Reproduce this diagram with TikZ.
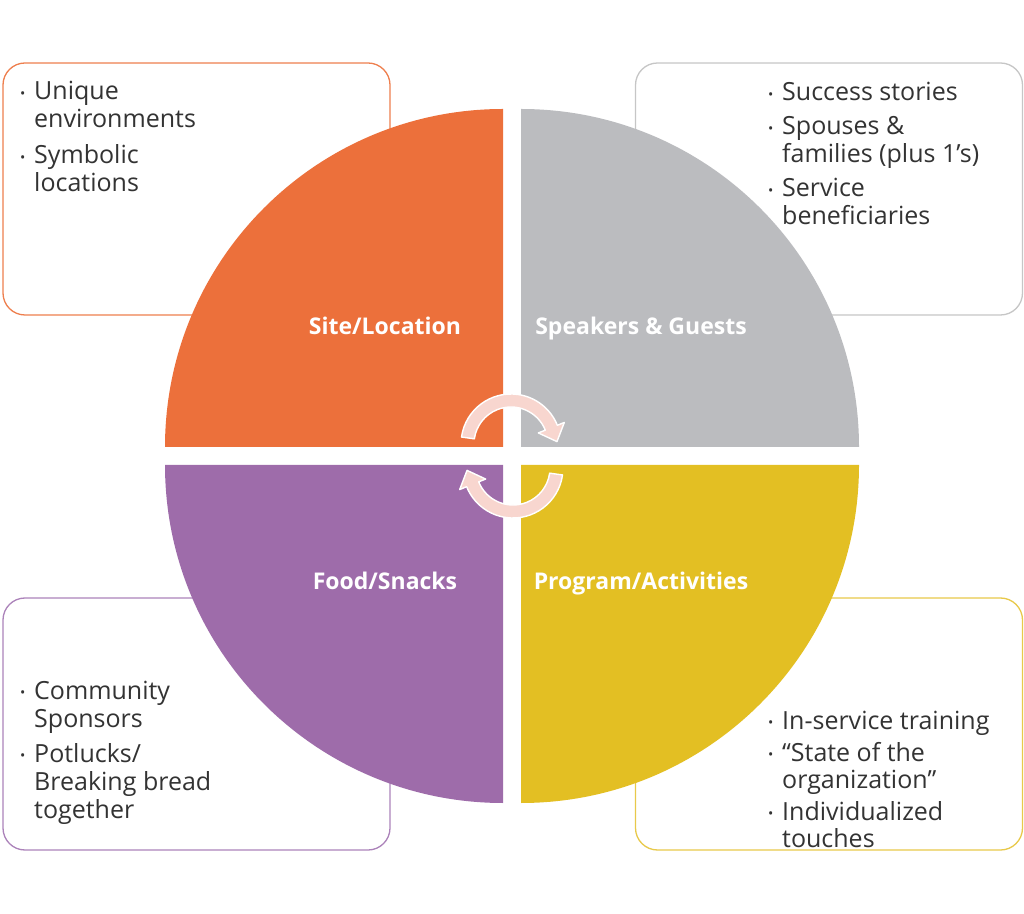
\documentclass[tikz,border=0pt]{standalone}
\usepackage{fontspec}
\setmainfont{Open Sans}
\usetikzlibrary{calc}

\definecolor{siteOrange}{HTML}{EC703B}
\definecolor{guestGray}{HTML}{BBBCBF}
\definecolor{foodPurple}{HTML}{9E6CAA}
\definecolor{progYellow}{HTML}{E3BF23}
\definecolor{siteLine}{HTML}{EE7F4E}
\definecolor{guestLine}{HTML}{C6C6C6}
\definecolor{foodLine}{HTML}{AC83BA}
\definecolor{progLine}{HTML}{E8C94A}
\definecolor{arrowPink}{HTML}{F8D6CF}
\definecolor{textGray}{HTML}{333333}

\newcommand{\bul}{\makebox[14pt][l]{\raisebox{0.1ex}{\fontsize{14}{14}\selectfont •}}}
\newcommand{\ind}{\hspace*{14pt}}

\begin{document}
\begin{tikzpicture}[
  x=1pt, y=1pt,
  font=\fontsize{25}{28}\selectfont,
  infobox/.style={draw, line width=1.3pt, rounded corners=22pt, fill=white, minimum width=387pt, minimum height=252pt, inner sep=0pt},
  qlabel/.style={text=white, anchor=base, font=\fontsize{23}{26}\selectfont\bfseries},
  bullets/.style={align=left, anchor=base west, inner sep=0pt, text=textGray},
  cycle arrow/.style={fill=arrowPink, draw=white, line width=1.4pt, line join=round}
]
\useasboundingbox (0,0) rectangle (1024,913);

\node[infobox, draw=siteLine] (siteBox) at (196.5,724) {};
\node[infobox, draw=guestLine] (guestBox) at (829,724) {};
\node[infobox, draw=foodLine] (foodBox) at (196.5,189) {};
\node[infobox, draw=progLine] (progBox) at (829,189) {};

\fill[siteOrange] (503,466) -- ++(-338,0) arc[start angle=180, end angle=90, radius=338] -- cycle;
\fill[guestGray] (521,466) -- ++(0,338) arc[start angle=90, end angle=0, radius=338] -- cycle;
\fill[foodPurple] (503,448) -- ++(0,-338) arc[start angle=270, end angle=180, radius=338] -- cycle;
\fill[progYellow] (521,448) -- ++(338,0) arc[start angle=0, end angle=-90, radius=338] -- cycle;

\node[qlabel] (siteLbl) at (385,578) {Site/Location};
\node[qlabel] (guestLbl) at (641,578) {Speakers \& Guests};
\node[qlabel] (foodLbl) at (385,323) {Food/Snacks};
\node[qlabel] (progLbl) at (641,323) {Program/Activities};

\node[bullets] (siteList) at (20,721) {\bul Unique\\ \ind environments\\[8pt] \bul Symbolic\\ \ind locations};
\node[bullets] (guestList) at (768,688) {\bul Success stories\\[6pt] \bul Spouses \&\\ \ind families (plus 1’s)\\[6pt] \bul Service\\ \ind beneficiaries};
\node[bullets] (foodList) at (20,95) {\bul Community\\ \ind Sponsors\\[7pt] \bul Potlucks/\\ \ind Breaking bread\\ \ind together};
\node[bullets] (progList) at (768,66) {\bul In-service training\\[4pt] \bul “State of the\\[-1pt] \ind organization”\\[4pt] \bul Individualized\\[-1pt] \ind touches};

\coordinate (topC) at (511,469);
\coordinate (botC) at (513,445);
\draw[cycle arrow] ($(topC)+(172:50)$) arc[start angle=172, end angle=22, radius=50]
  -- ($(topC)+(22:57.5)$) -- ($(topC)+(22:43.5)+(-68:15)$) -- ($(topC)+(22:29.5)$)
  -- ($(topC)+(22:37)$) arc[start angle=22, end angle=172, radius=37] -- cycle;
\draw[cycle arrow] ($(botC)+(352:50)$) arc[start angle=352, end angle=202, radius=50]
  -- ($(botC)+(202:57.5)$) -- ($(botC)+(202:43.5)+(112:15)$) -- ($(botC)+(202:29.5)$)
  -- ($(botC)+(202:37)$) arc[start angle=202, end angle=352, radius=37] -- cycle;
\end{tikzpicture}
\end{document}
